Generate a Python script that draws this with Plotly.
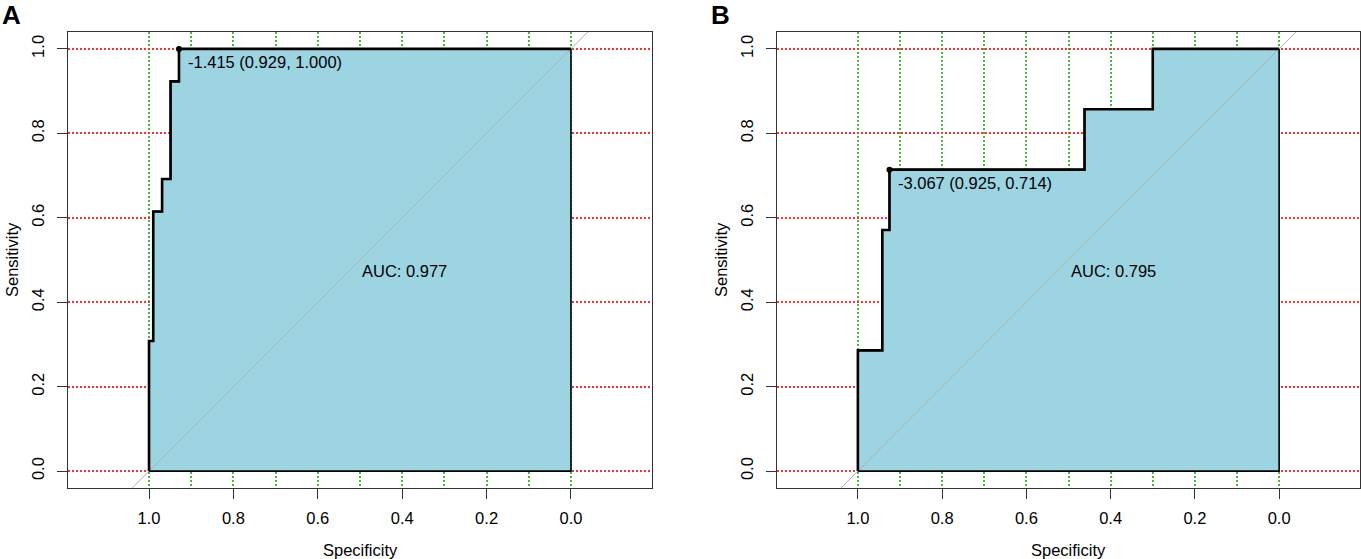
import plotly.graph_objects as go

# ROC corner points (specificity, sensitivity)
spec_a = [1.0, 0.990, 0.969, 0.949, 0.929, 0.0]
sens_a = [0.0, 0.308, 0.615, 0.692, 0.923, 1.0]
spec_b = [1.0, 0.942, 0.925, 0.462, 0.300, 0.0]
sens_b = [0.0, 0.286, 0.571, 0.714, 0.857, 1.0]

best_a = (0.929, 1.000)
best_b = (0.925, 0.714)
thr_a = "-1.415"
thr_b = "-3.067"
auc_a = 0.977
auc_b = 0.795

tick_vals = [1.0, 0.8, 0.6, 0.4, 0.2, 0.0]
tick_text = ["1.0", "0.8", "0.6", "0.4", "0.2", "0.0"]
vgrid = [round(0.1 * k, 1) for k in range(11)]

W, H = 1361, 559
x_range = [1.192, -0.192]
y_range = [-0.04, 1.04]
dom_a = [68 / W, 652 / W]
dom_b = [777 / W, 1360 / W]
dom_y = [(H - 488) / H, (H - 32) / H]

FONT = "Liberation Sans, Arial, sans-serif"
FILL = "#9DD4E1"
RED = "#FF3030"
GREEN = "#44BB44"
DASH = "2px,2px"


def step_path(spec, sens):
    xs, ys = [spec[0]], [sens[0]]
    for i in range(1, len(spec)):
        xs += [spec[i - 1], spec[i]]
        ys += [sens[i], sens[i]]
    return xs, ys


fig = go.Figure()


def add_panel(spec, sens, best, thr, auc, xa, ya):
    xs, ys = step_path(spec, sens)
    # AUC polygon
    fig.add_trace(go.Scatter(
        x=xs + [spec[-1], spec[0], spec[0]],
        y=ys + [0, 0, sens[0]],
        mode="lines", fill="toself", fillcolor=FILL,
        line=dict(color="black", width=1.6),
        xaxis=xa, yaxis=ya, hoverinfo="skip", showlegend=False,
    ))
    # chance diagonal
    fig.add_trace(go.Scatter(
        x=[1 - y_range[0], 1 - y_range[1]], y=y_range,
        mode="lines", line=dict(color="#B0B0B0", width=1),
        xaxis=xa, yaxis=ya, hoverinfo="skip", showlegend=False,
    ))
    # ROC curve
    fig.add_trace(go.Scatter(
        x=xs, y=ys, mode="lines",
        line=dict(color="black", width=2.6),
        xaxis=xa, yaxis=ya, showlegend=False,
    ))
    # best threshold
    fig.add_trace(go.Scatter(
        x=[best[0]], y=[best[1]], mode="markers",
        marker=dict(color="black", size=6),
        xaxis=xa, yaxis=ya, showlegend=False,
    ))
    fig.add_annotation(
        x=best[0], y=best[1], xref=xa, yref=ya,
        text="%s (%.3f, %.3f)" % (thr, best[0], best[1]),
        showarrow=False, xanchor="left", yanchor="middle",
        xshift=7, yshift=-13, font=dict(family=FONT, size=16.5, color="black"),
    )
    fig.add_annotation(
        x=0.5, y=0.5, xref=xa, yref=ya,
        text="AUC: %.3f" % auc,
        showarrow=False, xanchor="left", yanchor="top",
        font=dict(family=FONT, size=16.5, color="black"),
    )


add_panel(spec_a, sens_a, best_a, thr_a, auc_a, "x", "y")
add_panel(spec_b, sens_b, best_b, thr_b, auc_b, "x2", "y2")

xaxis_style = dict(
    range=x_range, tickmode="array", tickvals=tick_vals, ticktext=tick_text,
    ticks="outside", ticklen=10, tickwidth=1.3, tickcolor="#333",
    ticklabelstandoff=5,
    showgrid=True, gridcolor=GREEN, gridwidth=2, griddash=DASH,
    minor=dict(tickvals=vgrid, showgrid=True, gridcolor=GREEN, gridwidth=2,
               griddash=DASH, ticks=""),
    showline=True, mirror=True, linecolor="#333", linewidth=1.3,
    zeroline=False, tickfont=dict(family=FONT, size=16.5, color="black"),
)
yaxis_style = dict(
    range=y_range, tickmode="array", tickvals=tick_vals, ticktext=tick_text,
    tickangle=-90, ticks="outside", ticklen=10, tickwidth=1.3, tickcolor="#333",
    ticklabelstandoff=6,
    showgrid=True, gridcolor=RED, gridwidth=2, griddash=DASH,
    showline=True, mirror=True, linecolor="#333", linewidth=1.3,
    zeroline=False, tickfont=dict(family=FONT, size=16.5, color="black"),
)

fig.update_layout(
    width=W, height=H,
    margin=dict(l=0, r=0, t=0, b=0),
    plot_bgcolor="white", paper_bgcolor="white",
    xaxis=dict(domain=dom_a, anchor="y", **xaxis_style),
    yaxis=dict(domain=dom_y, anchor="x", **yaxis_style),
    xaxis2=dict(domain=dom_b, anchor="y2", **xaxis_style),
    yaxis2=dict(domain=dom_y, anchor="x2", **yaxis_style),
)

# axis titles and panel letters
for dom, letter in [(dom_a, "A"), (dom_b, "B")]:
    left_px = dom[0] * W
    fig.add_annotation(
        x=(dom[0] + dom[1]) / 2, y=(H - 550) / H, xref="paper", yref="paper",
        text="Specificity", showarrow=False, xanchor="center", yanchor="middle",
        font=dict(family=FONT, size=16.5, color="black"),
    )
    fig.add_annotation(
        x=(left_px - 56) / W, y=(dom_y[0] + dom_y[1]) / 2, xref="paper", yref="paper",
        text="Sensitivity", textangle=-90, showarrow=False,
        xanchor="center", yanchor="middle",
        font=dict(family=FONT, size=16.5, color="black"),
    )
    fig.add_annotation(
        x=(left_px - 57) / W, y=(H - 14.5) / H, xref="paper", yref="paper",
        text="<b>%s</b>" % letter, showarrow=False, xanchor="center", yanchor="middle",
        font=dict(family=FONT, size=26, color="black"),
    )

# page has an 8px body margin by default; drop it so the figure sits at 0,0
fig.write_html("out.html", config={"displayModeBar": False},
               post_script="document.body.style.margin='0px';")
